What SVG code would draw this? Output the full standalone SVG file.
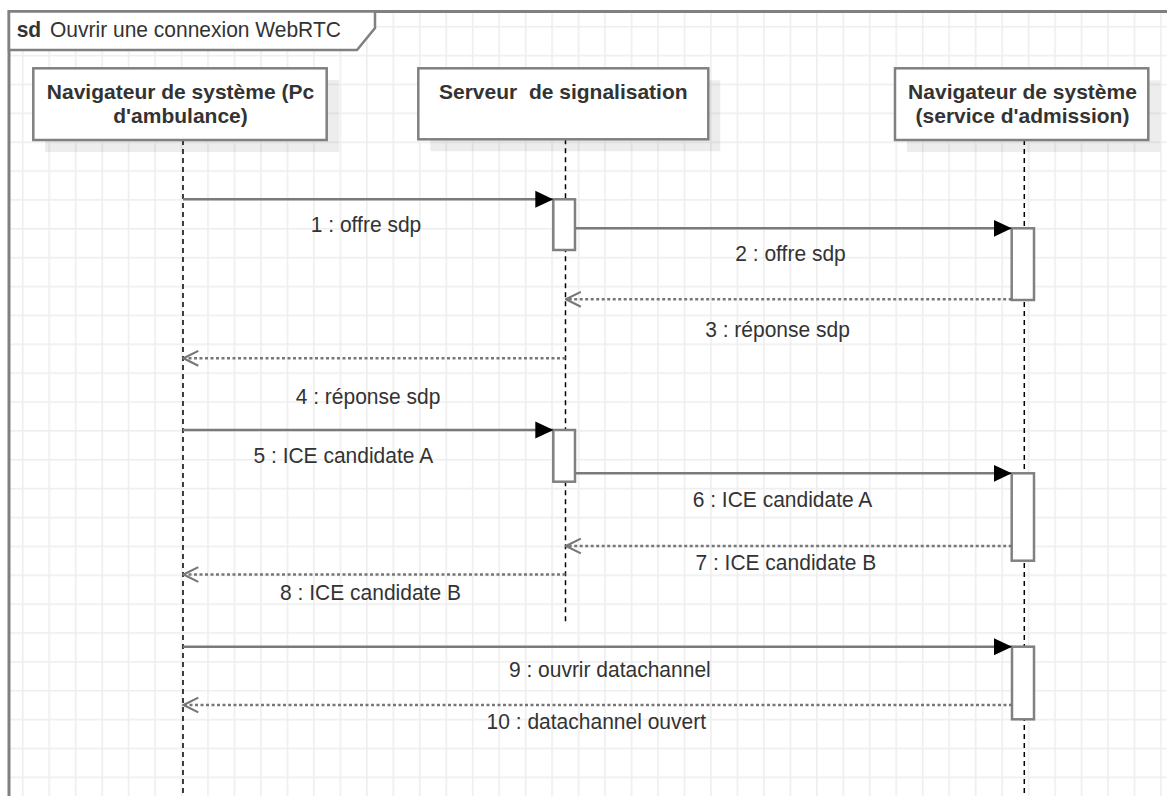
<svg xmlns="http://www.w3.org/2000/svg" width="1167" height="796" viewBox="0 0 1167 796">
  <style>
    text { font-family: "Liberation Sans", Arial, sans-serif; font-size: 21px; fill: #333333; }
    .head { font-weight: bold; text-anchor: middle; white-space: pre; }
    .lbl { text-anchor: middle; }
    .frame { fill: none; stroke: #808080; stroke-width: 3; }
    .tab { fill: #ffffff; stroke: #808080; stroke-width: 2.5; }
    .box { fill: #ffffff; stroke: #808080; stroke-width: 2.5; }
    .shadow { fill: #000000; fill-opacity: 0.07; }
    .life { stroke: #000000; stroke-width: 1.5; stroke-dasharray: 5 4; fill: none; }
    .act { fill: #ffffff; stroke: #808080; stroke-width: 2.5; }
    .call { stroke: #7a7a7a; stroke-width: 2.5; fill: none; marker-end: url(#filled); }
    .reply { stroke: #777777; stroke-width: 2.5; stroke-dasharray: 3 2.5; fill: none; marker-end: url(#open); }
  </style>
  <defs>
    <pattern id="grid" patternUnits="userSpaceOnUse" x="21.9" y="25.9" width="26.47" height="28.87">
      <rect x="0" y="0" width="1.6" height="28.87" fill="#eeeeee"/>
      <rect x="0" y="0" width="26.47" height="1.6" fill="#eeeeee"/>
    </pattern>
    <marker id="filled" markerUnits="userSpaceOnUse" markerWidth="18" markerHeight="18" viewBox="0 0 17 16" refX="17" refY="8" orient="auto">
      <path d="M0,0 L17,8 L0,16 z" fill="#000000"/>
    </marker>
    <marker id="open" markerUnits="userSpaceOnUse" markerWidth="18" markerHeight="18" viewBox="-1 0 17 16" refX="15" refY="8" orient="auto">
      <path d="M1,1 L15,8 L1,15" fill="none" stroke="#777777" stroke-width="2"/>
    </marker>
  </defs>

  <!-- background -->
  <rect x="0" y="0" width="1167" height="796" fill="#ffffff"/>
  <rect x="9" y="11.5" width="1160" height="790" fill="url(#grid)"/>

  <!-- sequence frame -->
  <g id="frame">
    <path class="frame" d="M1170,11.5 L9,11.5 L9,800"/>
    <path class="tab" d="M9,11.5 L375,11.5 L375,28 L357,50 L9,50 Z"/>
    <text x="16.7" y="0" font-weight="bold" transform="translate(0,36.7) scale(1,1.09)">sd</text>
    <text x="50" y="0" transform="translate(0,36.7) scale(1,1.09)">Ouvrir une connexion WebRTC</text>
  </g>

  <!-- lifelines -->
  <g id="lifeline-ambulance">
    <rect class="shadow" x="45" y="80" width="294" height="72"/>
    <line class="life" x1="183" y1="140" x2="183" y2="800"/>
    <rect class="box" x="33.3" y="68.3" width="293.4" height="71.7"/>
    <text class="head" x="180.5" y="99">Navigateur de système (Pc</text>
    <text class="head" x="180.5" y="123">d'ambulance)</text>
  </g>

  <g id="lifeline-serveur">
    <rect class="shadow" x="430.3" y="80.3" width="290" height="71"/>
    <line class="life" x1="565.5" y1="139.3" x2="565.5" y2="623"/>
    <rect class="box" x="418.3" y="68.3" width="290" height="71"/>
    <text class="head" x="563.3" y="99">Serveur  de signalisation</text>
  </g>

  <g id="lifeline-admission">
    <rect class="shadow" x="907" y="80.3" width="253.3" height="71.7"/>
    <line class="life" x1="1024.3" y1="140" x2="1024.3" y2="800"/>
    <rect class="box" x="895" y="68.3" width="253.3" height="71.7"/>
    <text class="head" x="1022.5" y="99">Navigateur de système</text>
    <text class="head" x="1022.5" y="123">(service d'admission)</text>
  </g>

  <!-- activation bars -->
  <g id="activations">
    <rect class="act" x="553.3" y="199.3" width="21.7" height="50.7"/>
    <rect class="act" x="1011.7" y="228.3" width="22.3" height="71.7"/>
    <rect class="act" x="553.3" y="430" width="21.7" height="51.7"/>
    <rect class="act" x="1011.7" y="473.3" width="22.3" height="87.4"/>
    <rect class="act" x="1012" y="646.7" width="22" height="72.6"/>
  </g>

  <!-- messages -->
  <g id="connectors">
    <line class="call" x1="183" y1="199.3" x2="553.3" y2="199.3"/>
    <line class="call" x1="575" y1="228.3" x2="1011.7" y2="228.3"/>
    <line class="reply" x1="1011.7" y1="299.3" x2="566" y2="299.3"/>
    <line class="reply" x1="565.5" y1="358.3" x2="183.5" y2="358.3"/>
    <line class="call" x1="183" y1="430" x2="553.3" y2="430"/>
    <line class="call" x1="575" y1="473.3" x2="1011.7" y2="473.3"/>
    <line class="reply" x1="1011.7" y1="546" x2="566" y2="546"/>
    <line class="reply" x1="565.5" y1="574.5" x2="183.5" y2="574.5"/>
    <line class="call" x1="183" y1="646.7" x2="1012" y2="646.7"/>
    <line class="reply" x1="1012" y1="705" x2="183.5" y2="705"/>
  </g>

  <!-- message labels -->
  <g id="labels">
    <text class="lbl" transform="translate(366,231.7) scale(1,1.09)">1 : offre sdp</text>
    <text class="lbl" transform="translate(790.5,260.7) scale(1,1.09)">2 : offre sdp</text>
    <text class="lbl" transform="translate(777.5,337.3) scale(1,1.09)">3 : réponse sdp</text>
    <text class="lbl" transform="translate(368,404) scale(1,1.09)">4 : réponse sdp</text>
    <text class="lbl" transform="translate(343.3,462.7) scale(1,1.09)">5 : ICE candidate A</text>
    <text class="lbl" transform="translate(782.5,506.7) scale(1,1.09)">6 : ICE candidate A</text>
    <text class="lbl" transform="translate(785.8,570) scale(1,1.09)">7 : ICE candidate B</text>
    <text class="lbl" transform="translate(370.5,600) scale(1,1.09)">8 : ICE candidate B</text>
    <text class="lbl" transform="translate(609.8,677.3) scale(1,1.09)">9 : ouvrir datachannel</text>
    <text class="lbl" transform="translate(596.3,729.3) scale(1,1.09)">10 : datachannel ouvert</text>
  </g>
</svg>
